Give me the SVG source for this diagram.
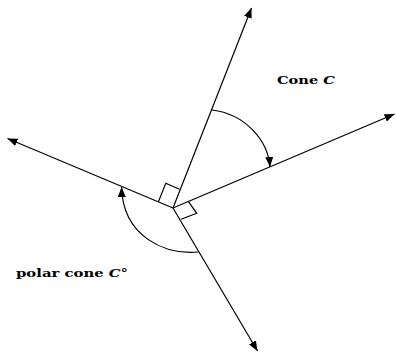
<svg xmlns="http://www.w3.org/2000/svg" width="396" height="352" viewBox="0 0 396 352">
<style>
.ln{stroke:#000;stroke-width:1.2;fill:none}
.lbl{font-family:"DejaVu Serif","Liberation Serif",serif;font-weight:bold;font-size:11.5px;fill:#000}
.it{font-style:italic}
</style>
<defs>
<marker id="ah" markerUnits="userSpaceOnUse" markerWidth="11" markerHeight="8" refX="10" refY="4" orient="auto">
<path d="M0,0 L10,4 L0,8 z" fill="#000"/>
</marker>
</defs>
<rect width="396" height="352" fill="#fff"/>
<g id="connectors">
<line class="ln" x1="173" y1="208" x2="251.5" y2="8" marker-end="url(#ah)"/>
<line class="ln" x1="173" y1="208" x2="394.5" y2="114" marker-end="url(#ah)"/>
<line class="ln" x1="173" y1="208" x2="7.5" y2="138.5" marker-end="url(#ah)"/>
<line class="ln" x1="173" y1="208" x2="257.5" y2="351" marker-end="url(#ah)"/>
<path class="ln" d="M212,110 C245,114 268,140 270,167" marker-end="url(#ah)"/>
<path class="ln" d="M198.5,252 C165,255 123,237 121.5,187" marker-end="url(#ah)"/>
<polyline class="ln" points="158.5,201.5 165.8,183.3 179.5,189.2"/>
<polyline class="ln" points="188.5,201.7 196.7,213.3 181,219.3"/>
</g>
<g id="label-cone">
<text class="lbl" x="277" y="83.5" textLength="58" lengthAdjust="spacingAndGlyphs">Cone <tspan class="it">C</tspan></text>
</g>
<g id="label-polar">
<text class="lbl" x="16" y="277" textLength="112" lengthAdjust="spacingAndGlyphs">polar cone <tspan class="it">C</tspan>°</text>
</g>
</svg>
